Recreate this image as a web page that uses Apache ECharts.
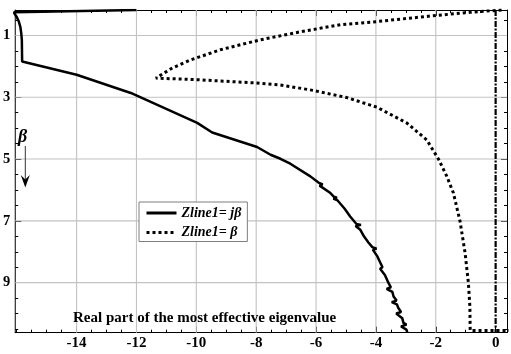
<!DOCTYPE html>
<html><head><meta charset="utf-8">
<script src="https://cdn.jsdelivr.net/npm/echarts@6/dist/echarts.min.js"></script>
<style>html,body{margin:0;padding:0;background:#fff}#c{width:511px;height:354px}</style>
</head><body><div id="c"></div>
<script>
const xTickLabels = [-14, -12, -10, -8, -6, -4, -2, 0];
const yTickLabels = [1, 3, 5, 7, 9];
const solidName = 'Zline1= jβ';
const dottedName = 'Zline1= β';
const chartTitle = 'Real part of the most effective eigenvalue';

// Zline1 = jβ : real part (x) vs β (y)
const solidRe = [-12.0, -16.1, -16.0, -15.93, -15.88, -15.85, -15.83, -15.82, -14.0, -12.19, -9.97, -9.47,
  -7.97, -7.52, -7.19, -6.86, -6.19, -5.92, -5.78, -5.88, -5.52, -5.40, -5.30, -5.42, -5.28, -5.05, -4.86,
  -4.65, -4.50, -4.68, -4.52, -4.40, -4.25, -4.12, -3.98, -4.10, -3.95, -3.90, -3.78, -3.86, -3.70,
  -3.58, -3.50, -3.64, -3.45, -3.41, -3.31, -3.47, -3.30, -3.25, -3.16, -3.32, -3.12, -3.08, -2.98, -3.16, -2.98, -2.95];
const solidBeta = [0.175, 0.25, 0.40, 0.55, 0.72, 0.92, 1.15, 1.84, 2.27, 2.86, 3.83, 4.14,
  4.61, 4.86, 4.99, 5.15, 5.56, 5.76, 5.82, 5.86, 6.10, 6.22, 6.25, 6.28, 6.34, 6.60, 6.86,
  7.10, 7.13, 7.17, 7.29, 7.50, 7.70, 7.85, 7.90, 7.94, 8.15, 8.26, 8.50, 8.55, 8.75,
  9.01, 9.15, 9.20, 9.30, 9.45, 9.58, 9.63, 9.70, 9.82, 9.95, 10.00, 10.15, 10.30, 10.36, 10.42, 10.52, 10.62];

// Zline1 = β
const dottedRe = [0.2, -0.86, -1.97, -3.97, -5.19, -6.52, -7.86, -9.19, -10.19, -10.8, -11.35,
  -9.97, -7.97, -7.19, -6.08, -4.97, -3.97, -2.97, -2.3, -1.91, -1.63, -1.41, -1.19, -1.02, -0.91, -0.86, -0.85, 0.5];
const dottedBeta = [0.175, 0.25, 0.35, 0.55, 0.65, 0.88, 1.14, 1.46, 1.79, 2.05, 2.38,
  2.43, 2.54, 2.60, 2.78, 3.01, 3.32, 3.83, 4.38, 5.00, 5.56, 6.10, 7.01, 8.04, 9.01, 9.77, 10.55, 10.55];

// branch on the imaginary axis
const axisRe = [0, 0];
const axisBeta = [0.175, 10.62];

const X_MIN = -16.05, X_MAX = 0.38, Y_MIN = 0.175, Y_MAX = 10.62;
const xMinor = []; for (let v = -16; v <= 0.0001; v += 0.5) xMinor.push(v);
const yMinor = []; for (let v = 0.5; v <= 10.5001; v += 0.5) yMinor.push(v);

const FONT = 'Liberation Serif, Times New Roman, serif';
const blackLine = { show: true, lineStyle: { color: '#000', width: 1 }, onZero: false };

function xAx(pos, major, showLine, showLabel) {
  return {
    type: 'value', position: pos, min: X_MIN, max: X_MAX, gridIndex: 0,
    axisLine: showLine ? blackLine : { show: false, onZero: false },
    axisTick: { show: true, inside: true, length: major ? 6 : 3, lineStyle: { color: '#000', width: 1 },
      customValues: major ? xTickLabels : xMinor },
    axisLabel: showLabel ? { show: true, customValues: xTickLabels, margin: 3, color: '#000',
      fontFamily: FONT, fontWeight: 'bold', fontSize: 15 } : { show: false },
    splitLine: { show: false }
  };
}
function yAx(pos, major, showLine, showLabel) {
  return {
    type: 'value', position: pos, min: Y_MIN, max: Y_MAX, inverse: true, gridIndex: 0,
    axisLine: showLine ? blackLine : { show: false, onZero: false },
    axisTick: { show: true, inside: true, length: major ? 6 : 3, lineStyle: { color: '#000', width: 1 },
      customValues: major ? yTickLabels : yMinor },
    axisLabel: showLabel ? { show: true, customValues: yTickLabels, margin: 5, color: '#000',
      fontFamily: FONT, fontWeight: 'bold', fontSize: 14.5 } : { show: false },
    splitLine: { show: false }
  };
}

const gridSeries = [];
xTickLabels.filter(v => v !== 0).forEach(v => gridSeries.push({
  type: 'line', symbol: 'none', silent: true, z: 1, data: [[v, Y_MIN], [v, Y_MAX]],
  lineStyle: { color: '#c2c2c2', width: 1.1 }, emphasis: { disabled: true }, tooltip: { show: false }
}));
yTickLabels.forEach(v => gridSeries.push({
  type: 'line', symbol: 'none', silent: true, z: 1, data: [[X_MIN, v], [X_MAX, v]],
  lineStyle: { color: '#c2c2c2', width: 1.1 }, emphasis: { disabled: true }, tooltip: { show: false }
}));

const chart = echarts.init(document.getElementById('c'), null, { renderer: 'canvas' });
chart.setOption({
  animation: false,
  backgroundColor: '#fff',
  grid: { left: 14, right: 4, top: 10, bottom: 21.3, containLabel: false },
  title: { text: chartTitle, left: 73, top: 311, padding: 0,
    textStyle: { fontFamily: FONT, fontWeight: 'bold', fontSize: 15, color: '#000' } },
  legend: {
    data: [solidName, dottedName], orient: 'vertical', left: 139, top: 202,
    padding: [4, 6, 2, 6], itemGap: 5.5, itemWidth: 30, itemHeight: 14,
    borderColor: '#7f7f7f', borderWidth: 1, backgroundColor: '#fff',
    itemStyle: { color: 'rgba(0,0,0,0)', borderColor: 'rgba(0,0,0,0)', borderWidth: 0 },
    lineStyle: { width: 3 },
    textStyle: { fontFamily: FONT, fontStyle: 'italic', fontWeight: 'bold', fontSize: 14, color: '#000' }
  },
  xAxis: [xAx('bottom', true, true, true), xAx('bottom', false, false, false),
          xAx('top', true, true, false), xAx('top', false, false, false)],
  yAxis: [yAx('left', true, true, true), yAx('left', false, false, false),
          yAx('right', true, true, false), yAx('right', false, false, false)],
  graphic: [
    { type: 'text', left: 18, top: 128, z: 10,
      style: { text: 'β', fontFamily: FONT, fontStyle: 'italic', fontWeight: 'bold', fontSize: 18, fill: '#000' } },
    { type: 'line', z: 10, shape: { x1: 25.3, y1: 146, x2: 25.3, y2: 182 }, style: { stroke: '#333', lineWidth: 1 } },
    { type: 'polygon', z: 10, shape: { points: [[20.8, 175], [25.3, 187.5], [29.8, 175], [25.3, 179.5]] }, style: { fill: '#000' } }
  ],
  series: gridSeries.concat([
    { name: 'axisBranch', type: 'line', symbol: 'none', z: 2, silent: true,
      data: axisRe.map((x, i) => [x, axisBeta[i]]),
      lineStyle: { color: '#000', width: 2.2, type: [6, 1.5, 2, 1.5] } },
    { name: solidName, type: 'line', symbol: 'none', z: 3,
      data: solidRe.map((x, i) => [x, solidBeta[i]]),
      color: '#000', lineStyle: { color: '#000', width: 2.5, type: 'solid' } },
    { name: dottedName, type: 'line', symbol: 'none', z: 3,
      data: dottedRe.map((x, i) => [x, dottedBeta[i]]),
      color: '#000', lineStyle: { color: '#000', width: 3, type: 'dotted' } }
  ])
});
</script></body></html>
